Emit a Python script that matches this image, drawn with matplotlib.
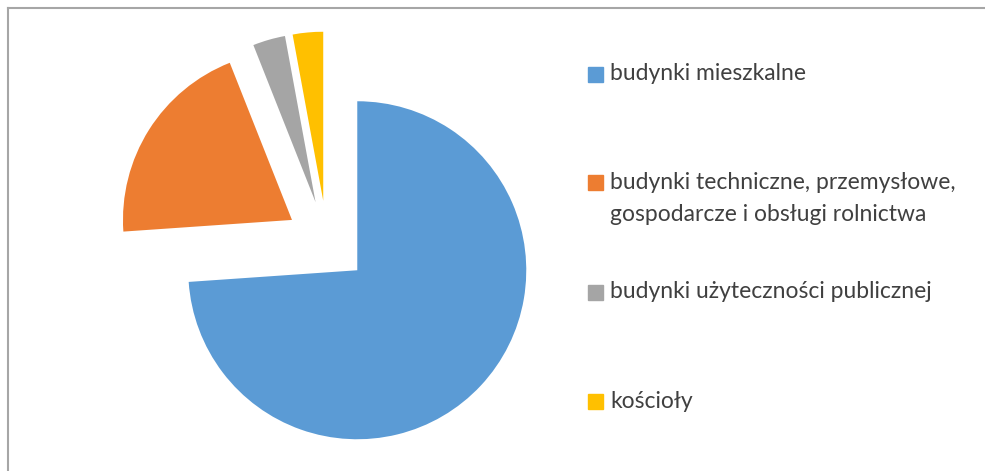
import matplotlib.pyplot as plt
from matplotlib.patches import Rectangle
from matplotlib.lines import Line2D

# dane
labels = ["budynki mieszkalne",
          "budynki techniczne, przemysłowe,\ngospodarcze i obsługi rolnictwa",
          "budynki użyteczności publicznej",
          "kościoły"]
values = [73.9, 20.1, 3.1, 2.9]
colors = ["#5B9BD5", "#ED7D31", "#A5A5A5", "#FFC000"]
explode = [0.245, 0.245, 0.245, 0.245]

W, H = 985, 471
fig = plt.figure(figsize=(W / 100, H / 100), dpi=100)

# wykres kołowy: 1 jednostka = 169 px, środek w (327, 242)
r_px = 169
cx, cy = 327, H - 242
half = 1.5
ax = fig.add_axes([(cx - half * r_px) / W, (cy - half * r_px) / H,
                   2 * half * r_px / W, 2 * half * r_px / H])
ax.pie(values, colors=colors, explode=explode, startangle=90,
       counterclock=False, wedgeprops=dict(linewidth=0))
ax.set_xlim(-half, half)
ax.set_ylim(-half, half)
ax.axis("off")

# ramka (tylko lewa i górna krawędź)
fig.add_artist(Line2D([7.5 / W, 7.5 / W], [0, (H - 8) / H], color="#A6A6A6", lw=1.5))
fig.add_artist(Line2D([7.5 / W, 1], [(H - 8) / H, (H - 8) / H], color="#A6A6A6", lw=1.5))

# legenda
marker_y = [74, 182, 292, 401]
text_y = [74, 198.5, 292, 401]
for lab, col, my, ty in zip(labels, colors, marker_y, text_y):
    fig.add_artist(Rectangle((588 / W, (H - my - 7.5) / H), 15 / W, 15 / H,
                             color=col, transform=fig.transFigure))
    fig.text(610 / W, (H - ty) / H, lab, fontsize=16.5, color="#404040",
             family="Lato", va="center", linespacing=1.7)

fig.savefig("out.png", dpi=100)
